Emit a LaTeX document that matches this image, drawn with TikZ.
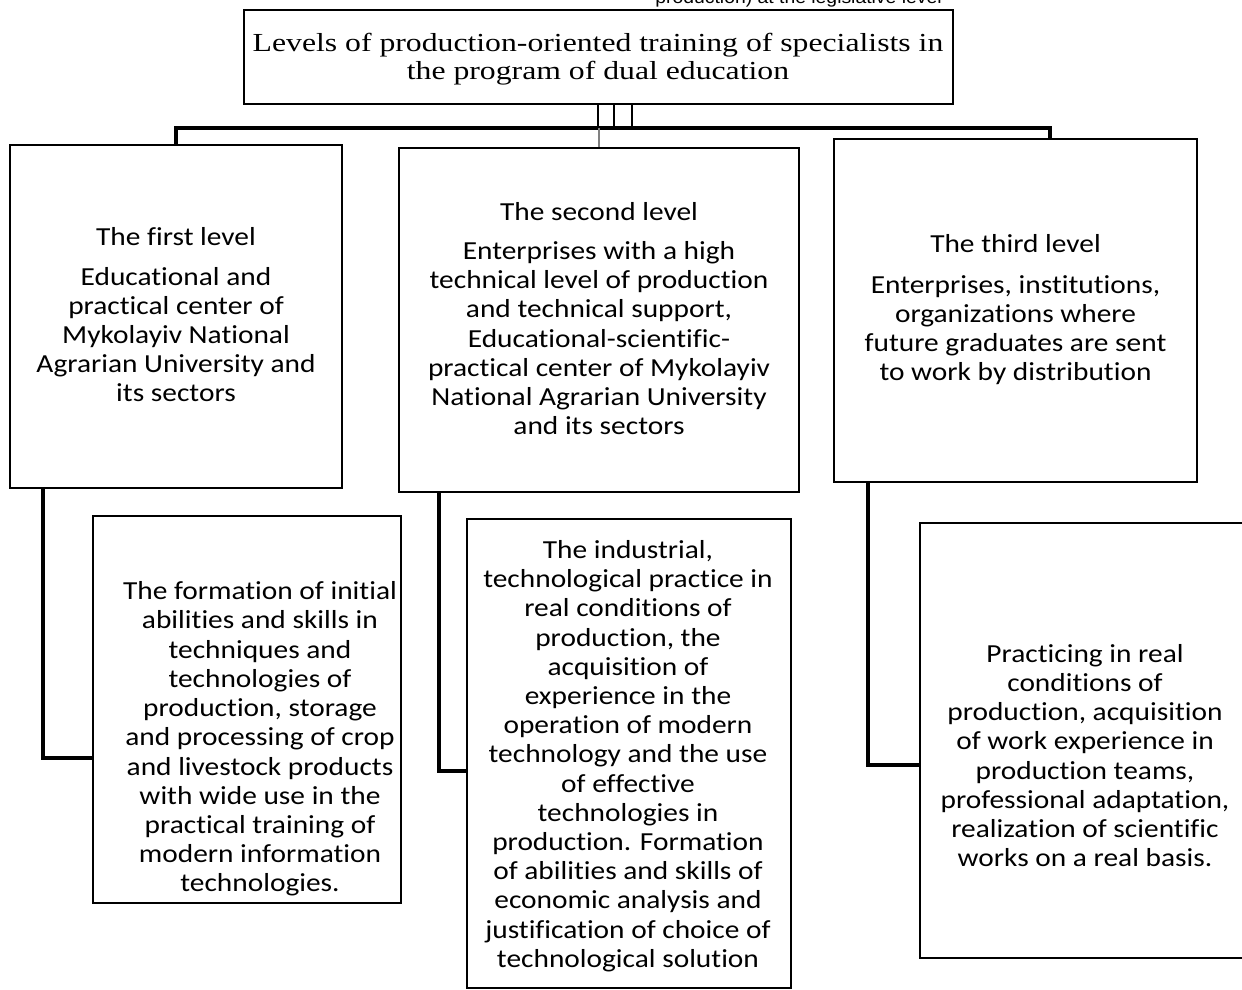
\documentclass[tikz,border=0pt]{standalone}
\usepackage{fontspec}
\usepackage{tikz}
\usetikzlibrary{calc}
\newfontfamily\bodyfont{Carlito}[FakeStretch=1.13,Ligatures=CommonOff]
\newfontfamily\headfont{Liberation Serif}[FakeStretch=1.22]
\newfontfamily\notefont{Liberation Sans}[FakeStretch=1.1]
\tikzset{
  box/.style={draw,line width=1.3pt,inner sep=0pt},
  link/.style={line width=2pt},
  body/.style={font={\bodyfont\fontsize{13}{14.6}\selectfont},align=center,inner sep=0pt},
}

\begin{document}
\begin{tikzpicture}[x=0.5pt,y=-0.5pt]
% Frame of the page (pixels of the reference)
\useasboundingbox (0,0) rectangle (1242,990);
\clip (0,0) rectangle (1242,990);

% Cut line of the text above
\node[font={\notefont\fontsize{8.8}{10}\selectfont},anchor=base west,inner sep=0pt] (note) at (655,4) {production) at the legislative level};

% Title
\node[box,line width=1.2pt,minimum width=354.5pt,minimum height=47pt] (top) at (598.5,57) {};
\node[font={\headfont\fontsize{13}{14}\selectfont},align=center,inner sep=0pt] (toptext) at (598,59)
  {Levels of production-oriented training of specialists in\\the program of dual education};

% Levels
\node[box,minimum width=166pt,minimum height=171.5pt] (lvl1) at (176,316.5) {};
\node[box,minimum width=200pt,minimum height=172pt] (lvl2) at (599,320) {};
\node[box,minimum width=181.5pt,minimum height=171.5pt] (lvl3) at (1015.5,310.5) {};

\node[body] (lvl1text) at (176,315) {The first level\\[5pt]
  Educational and\\practical center of\\Mykolayiv National\\Agrarian University and\\its sectors};
\node[body] (lvl2text) at (599,318.5) {The second level\\[5pt]
  Enterprises with a high\\technical level of production\\and technical support,\\Educational-scientific-\\practical center of Mykolayiv\\National Agrarian University\\and its sectors};
\node[body] (lvl3text) at (1015.5,309.5) {The third level\\[6pt]
  Enterprises, institutions,\\organizations where\\future graduates are sent\\to work by distribution};

% Tasks of each level
\node[box,minimum width=154pt,minimum height=193.5pt] (task1) at (247,709.5) {};
\node[box,minimum width=162pt,minimum height=234.5pt] (task2) at (629,753.5) {};
\node[box,minimum width=165pt,minimum height=217.5pt] (task3) at (1085,740.5) {};

\node[body] (task1text) at (260,739) {The formation of initial\\abilities and skills in\\techniques and\\technologies of\\production, storage\\and processing of crop\\and livestock products\\with wide use in the\\practical training of\\modern information\\technologies.};
\node[body] (task2text) at (628,756) {The industrial,\\technological practice in\\real conditions of\\production, the\\acquisition of\\experience in the\\operation of modern\\technology and the use\\of effective\\technologies in\\production. Formation\\of abilities and skills of\\economic analysis and\\justification of choice of\\technological solution};
\node[body] (task3text) at (1085,755.5) {Practicing in real\\conditions of\\production, acquisition\\of work experience in\\production teams,\\professional adaptation,\\realization of scientific\\works on a real basis.};

% Title to levels
\coordinate (hub) at (614,128);
\coordinate (hubR) at (1050,128);
\foreach \dx in {-0.5,15.5,33.5}
  \draw[line width=1.4pt] (top.south) ++(\dx,0) -- ++(0,24);
\draw[link] (lvl1.north) |- (hubR) -- (hubR |- lvl3.north);
\draw[line width=1pt,gray] (hub -| lvl2.north) -- (lvl2.north);

% Levels to tasks
\coordinate (bend1) at (43,758);
\coordinate (bend2) at (439,771);
\coordinate (bend3) at (868,765);
\draw[link] (lvl1.south -| bend1) |- (task1.west |- bend1);
\draw[link] (lvl2.south -| bend2) |- (task2.west |- bend2);
\draw[link] (lvl3.south -| bend3) |- (task3.west |- bend3);

\end{tikzpicture}
\end{document}
